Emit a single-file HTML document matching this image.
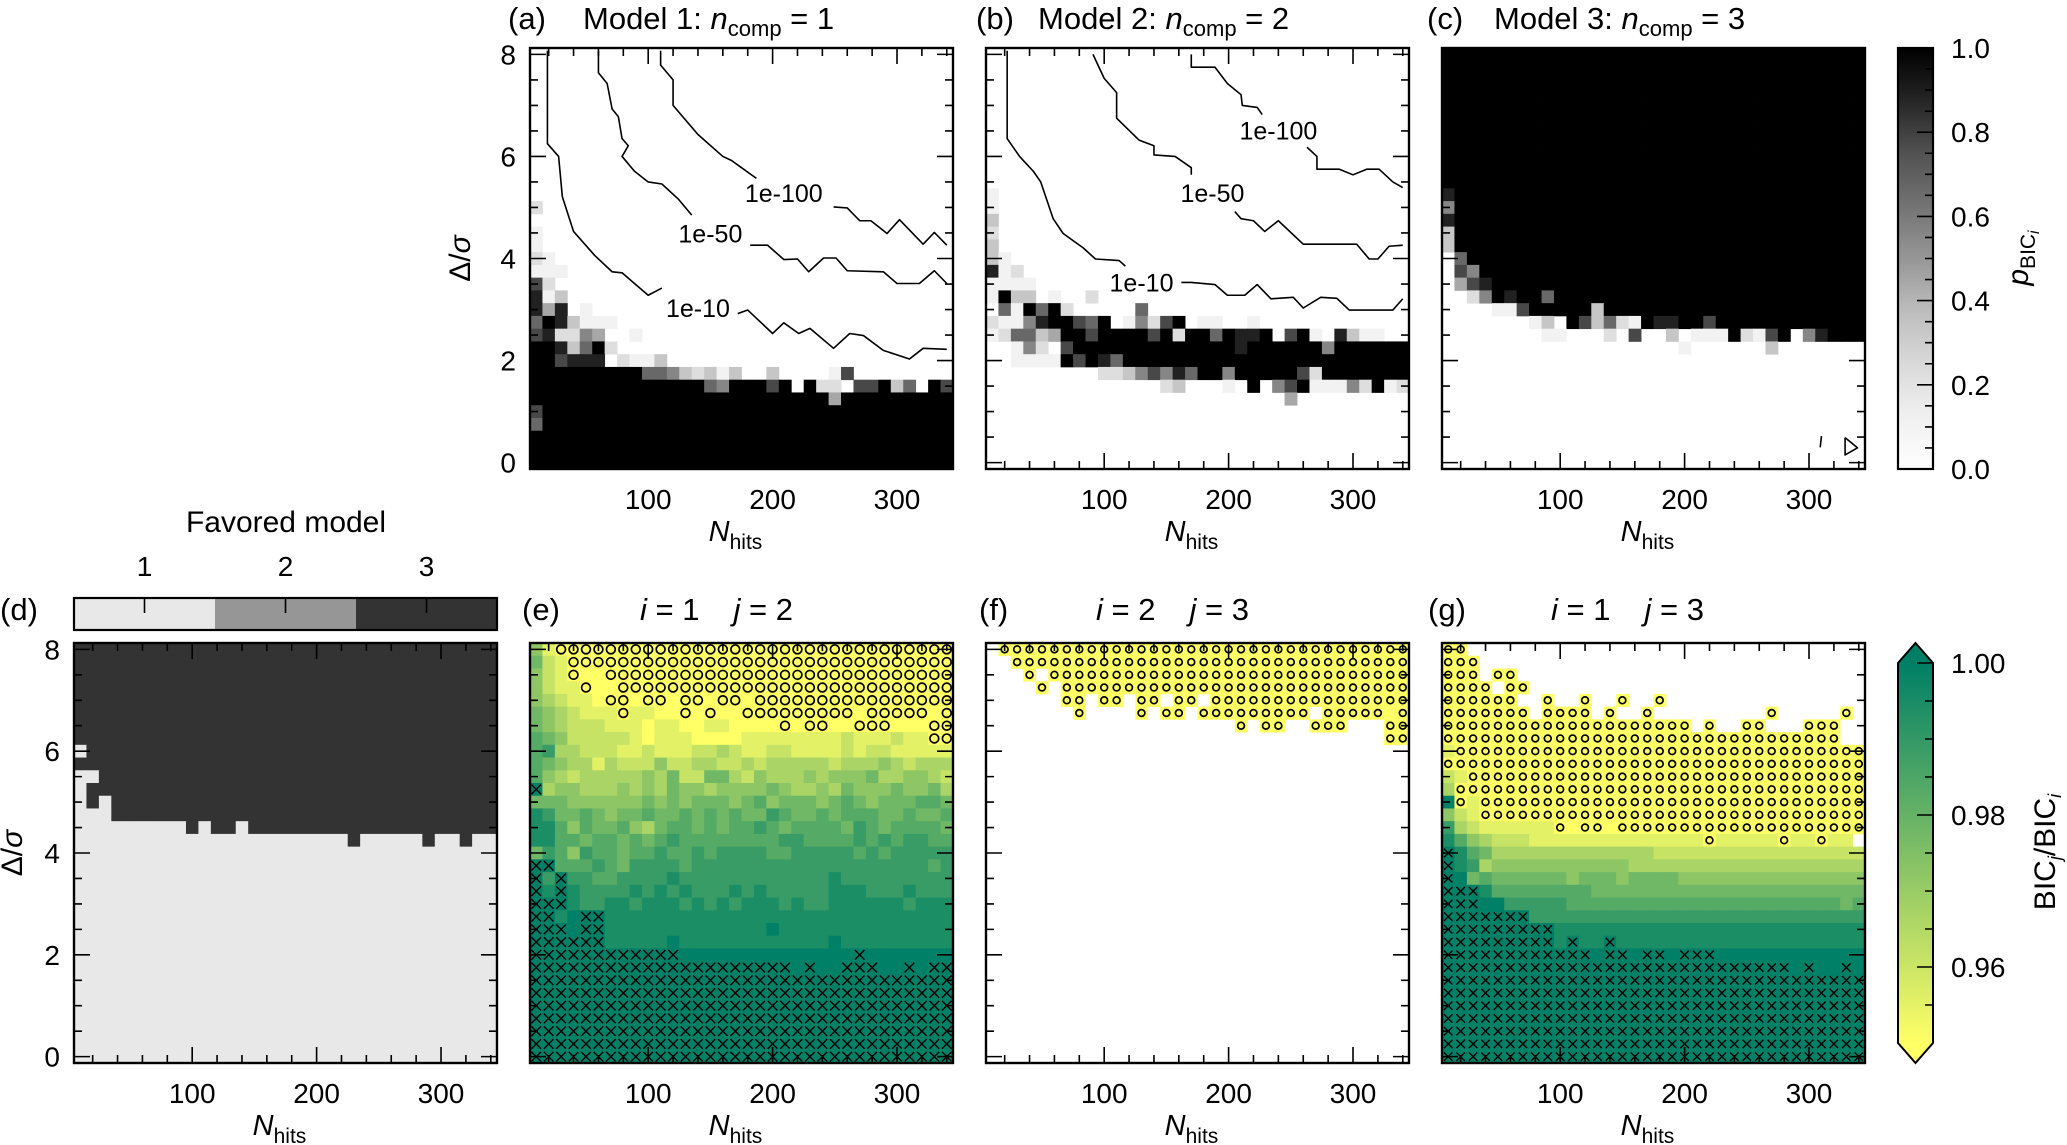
<!DOCTYPE html>
<html><head><meta charset="utf-8"><style>
html,body{margin:0;padding:0;background:#fff;}
svg{display:block;font-family:"Liberation Sans",sans-serif;}
</style></head><body>
<svg id="fig" width="2067" height="1145" viewBox="0 0 2067 1145" xmlns="http://www.w3.org/2000/svg">
<defs>
<linearGradient id="greyGrad" x1="0" y1="1" x2="0" y2="0">
<stop offset="0" stop-color="#ffffff"/><stop offset="0.125" stop-color="#f0f0f0"/><stop offset="0.25" stop-color="#d9d9d9"/><stop offset="0.375" stop-color="#bdbdbd"/><stop offset="0.5" stop-color="#969696"/><stop offset="0.625" stop-color="#737373"/><stop offset="0.75" stop-color="#525252"/><stop offset="0.875" stop-color="#252525"/><stop offset="1" stop-color="#000000"/>
</linearGradient>
<linearGradient id="summerGrad" x1="0" y1="1" x2="0" y2="0">
<stop offset="0" stop-color="#ffff66"/><stop offset="1" stop-color="#007f66"/>
</linearGradient>
</defs>
<g id="layer"></g>
</svg>
<script>
// ---------- data ----------
const xVals = [10,20,30,40,50,60,70,80,90,100,110,120,130,140,150,160,170,180,190,200,210,220,230,240,250,260,270,280,290,300,310,320,330,340];
const yVals = [8,7.75,7.5,7.25,7,6.75,6.5,6.25,6,5.75,5.5,5.25,5,4.75,4.5,4.25,4,3.75,3.5,3.25,3,2.75,2.5,2.25,2,1.75,1.5,1.25,1,0.75,0.5,0.25,0];
const xMajor = [100,200,300];
const xMinor = [20,40,60,80,120,140,160,180,220,240,260,280,320,340];
const yMajor = [0,2,4,6,8];
const yMinor = [0.5,1,1.5,2.5,3,3.5,4.5,5,5.5,6.5,7,7.5];
const xTickLabels = ["100","200","300"];
const yTickLabels = ["0","2","4","6","8"];
const pTicks = [0,0.2,0.4,0.6,0.8,1.0];
const pTickLabels = ["0.0","0.2","0.4","0.6","0.8","1.0"];
const pMinor = [0.05,0.1,0.15,0.25,0.3,0.35,0.45,0.5,0.55,0.65,0.7,0.75,0.85,0.9,0.95];
const rTicks = [0.96,0.98,1.00];
const rTickLabels = ["0.96","0.98","1.00"];
const rMinor = [0.955,0.965,0.97,0.975,0.985,0.99,0.995];
const favoredModels = ["1","2","3"];

const pA = ["","","","","","","","","","","","","2","","1","1","21","111","72","813","84801","6983111","782254001","99836920000","99788802113",
"9999999996653231300300001700000000","9999999999999965999790922077936097","9999999999999999999999994999999999",
"7999999999999999999999999999999999","6999999999999999999999999999999999","9999999999999999999999999999999999","9999999999999999999999999999999999","9999999999999999999999999999999999"];
const pB = ["","","","","","","","","","","","1","1","3","2","3","31","812","1111","193301002","0619692000006","2115899769015279011001",
"1266349979999792996988907910831100","0015207999999999999989999995999999","0011119798699999999999999999999999",
"0000000002235758699599999729999999","0000000000000023000109057911152912","0000000000000000000000004000000000","","","","",""];
const pC = ["","","","","","","","","","","","8","5","8","39","39","069","0759","0478","0025989969","0000117999993","0000000130973621988997",
"0000000011000207003011192179058999","0000000000000000000100000030000000","0000000000000000000000000000000000","0000000000000000000000000000000000",
"0000000000000000000000000000000000","0000000000000000000000000000000000","0000000000000000000000000000000000","0000000000000000000000000000000000",
"0000000000000000000000000000000000","0000000000000000000000000000000000","0000000000000000000000000000000000"];
const favD = ["","","","","","","","","1","","11","1","131","111","1111111113133133333333333333333333","1111111111111111111111311111311311",
"1111111111111111111111111111111111","1111111111111111111111111111111111","1111111111111111111111111111111111","1111111111111111111111111111111111",
"1111111111111111111111111111111111","1111111111111111111111111111111111","1111111111111111111111111111111111","1111111111111111111111111111111111",
"1111111111111111111111111111111111","1111111111111111111111111111111111","1111111111111111111111111111111111","1111111111111111111111111111111111",
"1111111111111111111111111111111111","1111111111111111111111111111111111","1111111111111111111111111111111111","1111111111111111111111111111111111","1111111111111111111111111111111111"];
const rE = ["41oooooooooooooooooooooooooooooooo","521ooooooooooooooooooooooooooooooo","421o00oooooooooooooooooooooooooooo","4211o00ooooooooooooooooooooooooooo",
"432110oo0oo0oo0oo0oooooooooooooooo","5432111o1100o0o00ooooooooo0ooooo0o","54322211101100110000o0oo00ooo000oo","65422222101110000111111112111211oo",
"6733222112111223211221111212211111","6543313222422332232333332333432333","6432333334352255324333434445334432","x344333434354434444543343544454453",
"5554444445454555456455545654555665","8755654556556565655765565666556556","8864655643566565667656666576566665","8866566565676666666677666676767766",
"5764766566766767777667777767677777","xx66676577776777777777777777777767","x7x7766777787777777777778777777777","x8x8777787878777878777778887778777",
"xxx8778878887878788878778888887888","xx89xx8888888888888888888888888888","xxx9xx8888888888888988888888888888","xxxxxx8888898888888888889888888888",
"xxxxxxxxxxxx99999999999999x9999999","xxxxxxxxxxxxxxxxxxxxx9x99xxx99x9xx","xxxxxxxxxxxxxxxxxxxxxxxxxxxxxxxxxx","xxxxxxxxxxxxxxxxxxxxxxxxxxxxxxxxxx",
"xxxxxxxxxxxxxxxxxxxxxxxxxxxxxxxxxx","xxxxxxxxxxxxxxxxxxxxxxxxxxxxxxxxxx","xxxxxxxxxxxxxxxxxxxxxxxxxxxxxxxxxx","xxxxxxxxxxxxxxxxxxxxxxxxxxxxxxxxxx","xxxxxxxxxxxxxxxxxxxxxxxxxxxxxxxxxx"];
const rF = [".ooooooooooooooooooooooooooooooooo","..oooooooooooooooooooooooooooooooo","...o.ooooooooooooooooooooooooooooo","....o.oooooooooooooooooooooooooooo",
"......oo.oo.oo.oo.oooooooooooooooo",".......o....o.oo.ooooooooo.ooooo0o","....................o.oo..ooo...oo","................................oo"];
const rG = ["oo","ooo","ooo.oo","oooo.oo","oooooo..o..o..o..o","ooooooo.oooo.o..o.........o.....o.","oooooooooooooooooooo.o..oo...ooo..",
"oooooooooooooooooooooooooooooooo..","1ooooooooooooooooooooooooooooooooo","oooooooooooooooooooooooooooooooooo","21oooooooooooooooooooooooooooooooo","3ooooooooooooooooooooooooooooooooo",
"9o1ooooooooooooooooooooooooooooooo","421ooooooooooooooooooooooooooooooo","732111111o0oo0oooooooooooooooooooo","864322211111111111111o11111o11o11",
"x865333333333333322222222222222222","x873444444444443333333333333333333","x956555555455545555444444444444444","xxx8666666665555555555555555555555",
"xxx9977777666666666666666666666656","xxxxxxx777777777777777777777777777","xxxxxxxxx8888888888888888888888888","xxxxxxxxx8x88x88888888888888888888",
"xxxxxxxxxxxx9xx9xx9xxx999999999999","xxxxxxxxxxxxxxxxxxxxxxxxxxxx9x99x9","xxxxxxxxxxxxxxxxxxxxxxxxxxxxxxxxxx","xxxxxxxxxxxxxxxxxxxxxxxxxxxxxxxxxx",
"xxxxxxxxxxxxxxxxxxxxxxxxxxxxxxxxxx","xxxxxxxxxxxxxxxxxxxxxxxxxxxxxxxxxx","xxxxxxxxxxxxxxxxxxxxxxxxxxxxxxxxxx","xxxxxxxxxxxxxxxxxxxxxxxxxxxxxxxxxx","xxxxxxxxxxxxxxxxxxxxxxxxxxxxxxxxxx"];

const contA10 = [[19,8.07],[19,6.25],[28,6.0],[31,5.21],[40,4.53],[57,4.06],[71,3.74],[79,3.72],[100,3.28],[111,3.42]];
const contA10b = [[172,2.92],[180,2.99],[200,2.53],[209,2.74],[221,2.53],[230,2.63],[249,2.24],[262,2.53],[273,2.49],[289,2.2],[310,2.03],[321,2.24],[340,2.22]];
const contA50 = [[60,8.07],[60,7.64],[67,7.43],[71,6.93],[76,6.78],[79,6.35],[84,6.21],[79,6.0],[89,5.71],[100,5.5],[111,5.46],[124,5.17],[135,4.85]];
const contA50b = [[182,4.26],[196,4.26],[209,3.98],[220,3.99],[229,3.74],[241,4.01],[251,4.01],[260,3.76],[289,3.74],[300,3.51],[318,3.51],[330,3.76],[340,3.51]];
const contA100 = [[110,8.07],[110,7.79],[120,7.5],[120,7.0],[140,6.43],[160,6.0],[167,5.92],[175,5.78],[187,5.57]];
const contA100b = [[249,5.01],[260,4.99],[270,4.74],[279,4.74],[292,4.49],[302,4.76],[321,4.28],[330,4.51],[340,4.26]];
const contB10 = [[22,8.07],[22,6.35],[32,6.0],[43,5.71],[49,5.5],[53,5.21],[59,4.78],[67,4.49],[83,4.21],[93,3.99],[112,3.96],[117,3.85]];
const contB10b = [[162,3.53],[170,3.53],[189,3.49],[199,3.28],[213,3.28],[223,3.49],[234,3.21],[252,3.24],[260,3.03],[274,3.24],[287,3.22],[297,2.99],[332,2.99],[340,3.21]];
const contB50 = [[91,8.0],[100,7.53],[110,7.25],[110,6.75],[128,6.32],[140,6.21],[140,6.03],[157,6.0],[170,5.78],[170,5.64]];
const contB50b = [[205,4.92],[210,4.78],[220,4.74],[229,4.53],[240,4.74],[260,4.28],[292,4.28],[303,4.28],[313,3.99],[320,3.99],[329,4.24],[340,4.26]];
const contB100 = [[170,8.0],[170,7.75],[189,7.75],[199,7.43],[210,7.21],[211,7.0],[223,6.96],[227,6.82]];
const contB100b = [[263,6.18],[271,6.0],[271,5.75],[289,5.75],[300,5.64],[311,5.75],[321,5.75],[332,5.5],[340,5.39]];
const contC1 = [[310,0.52],[309,0.30]];
const contC2 = [[329,0.49],[339,0.29],[329,0.15],[329,0.49]];
const contourLabels = [
 {p:0,text:"1e-100",x:209,y:5.28},{p:0,text:"1e-50",x:150,y:4.49},{p:0,text:"1e-10",x:140,y:3.03},
 {p:1,text:"1e-100",x:240,y:6.51},{p:1,text:"1e-50",x:187,y:5.28},{p:1,text:"1e-10",x:130,y:3.53}];

// ---------- drawing ----------
const NS = "http://www.w3.org/2000/svg";
const root = document.getElementById('layer');
function mk(tag, attrs, parent){ const e=document.createElementNS(NS,tag); for(const k in attrs) e.setAttribute(k,attrs[k]); (parent||root).appendChild(e); return e; }
const W=423;
const panels = [
 {id:'a',L:530,T:48,H:421},{id:'b',L:986,T:48,H:421},{id:'c',L:1442,T:48,H:421},
 {id:'d',L:74,T:643,H:420},{id:'e',L:530,T:643,H:420},{id:'f',L:986,T:643,H:420},{id:'g',L:1442,T:643,H:420}];
panels.forEach(p=>{ p.sx=v=>p.L+(v-5)/340*W; p.sy=v=>p.T+(8.125-v)/8.25*p.H; });

const greyStops=[255,240,217,189,150,115,82,37,0];
function greyColor(v){ const f=v*8, i=Math.min(7,Math.floor(f)), t=f-i; const g=Math.round(greyStops[i]+(greyStops[i+1]-greyStops[i])*t); return `rgb(${g},${g},${g})`; }
function summerColor(v){ let t=(1.0-v)/0.05; t=Math.max(0,Math.min(1,t)); return `rgb(${Math.round(255*t)},${Math.round(127.5+127.5*t)},102)`; }

function drawGrey(p, rows, pad, name){
  const g=mk('g',{});  
  rows.forEach((s,r)=>{ const row=s.padEnd(34,pad); for(let c=0;c<34;c++){ const v=parseInt(row[c])/9; if(v===0) continue;
    const x0=p.sx(xVals[c]-5), x1=p.sx(xVals[c]+5), y0=p.sy(yVals[r]+0.125), y1=p.sy(yVals[r]-0.125);
    const e=mk('rect',{x:x0.toFixed(2),y:y0.toFixed(2),width:(x1-x0+0.4).toFixed(2),height:(y1-y0+0.4).toFixed(2),fill:greyColor(v)},g);
    
     }});
}
function drawFav(p, rows){
  const g=mk('g',{});  
  const cols={"1":"#e8e8e8","2":"#969696","3":"#333333"};
  rows.forEach((s,r)=>{ const row=s.padEnd(34,'3'); for(let c=0;c<34;c++){
    const x0=p.sx(xVals[c]-5), x1=p.sx(xVals[c]+5), y0=p.sy(yVals[r]+0.125), y1=p.sy(yVals[r]-0.125);
    const e=mk('rect',{x:x0.toFixed(2),y:y0.toFixed(2),width:(x1-x0+0.4).toFixed(2),height:(y1-y0+0.4).toFixed(2),fill:cols[row[c]]},g);
    
     }});
}
function drawRatio(p, rows, name, big){
  const g=mk('g',{});  
  const mg=mk('g',{});
  const cr = big?4.4:3.4, xh = big?4.8:4.2;
  rows.forEach((s,r)=>{ const row=s.padEnd(34,'.'); for(let c=0;c<34;c++){ const ch=row[c]; if(ch==='.') continue;
    let v; if(ch==='o') v=0.94; else if(ch==='x') v=1.01; else v=0.95+0.05*parseInt(ch)/9;
    const x0=p.sx(xVals[c]-5), x1=p.sx(xVals[c]+5), y0=p.sy(yVals[r]+0.125), y1=p.sy(yVals[r]-0.125);
    const e=mk('rect',{x:x0.toFixed(2),y:y0.toFixed(2),width:(x1-x0+0.4).toFixed(2),height:(y1-y0+0.4).toFixed(2),fill:summerColor(v)},g);
    
    
    const cx=p.sx(xVals[c]), cy=p.sy(yVals[r]);
    if(ch==='o'){ const m=mk('circle',{cx:cx.toFixed(2),cy:cy.toFixed(2),r:cr,fill:'none',stroke:'#000','stroke-width':1.7},mg);
      
       }
    if(ch==='x'){ const m=mk('path',{d:`M${cx-xh},${cy-xh}L${cx+xh},${cy+xh}M${cx-xh},${cy+xh}L${cx+xh},${cy-xh}`,stroke:'#000','stroke-width':1.4,fill:'none'},mg);
      
       }
  }});
  root.appendChild(mg);
}
function drawLine(p, pts, name){
  const d=pts.map((q,i)=>(i?'L':'M')+p.sx(q[0]).toFixed(2)+','+p.sy(q[1]).toFixed(2)).join('');
  const e=mk('path',{d:d,fill:'none',stroke:'#000','stroke-width':1.6,'stroke-linejoin':'round'});
  
  
}
function axes(p, showY, lblY){
  const g=mk('g',{});  
  const B=p.T+p.H, R=p.L+W;
  let d='';
  xMajor.forEach(v=>{const x=p.sx(v); d+=`M${x},${B}v-16M${x},${p.T}v16`;});
  xMinor.forEach(v=>{const x=p.sx(v); d+=`M${x},${B}v-8M${x},${p.T}v8`;});
  yMajor.forEach(v=>{const y=p.sy(v); d+=`M${p.L},${y}h16M${R},${y}h-16`;});
  yMinor.forEach(v=>{const y=p.sy(v); d+=`M${p.L},${y}h8M${R},${y}h-8`;});
  mk('path',{d:d,stroke:'#000','stroke-width':1.6,fill:'none'},g);
  const fr=mk('rect',{x:p.L,y:p.T,width:W,height:p.H,fill:'none',stroke:'#000','stroke-width':2.4},g);
  
  
  xMajor.forEach((v,i)=>{ const t=mk('text',{x:p.sx(v),y:B+40,'font-size':28,'text-anchor':'middle'},g); t.textContent=xTickLabels[i];
    
     });
  const xl=mk('text',{x:p.L+W/2-6,y:B+72,'font-size':29,'text-anchor':'middle'},g);
  xl.innerHTML='<tspan font-style="italic">N</tspan><tspan font-size="21" dy="8">hits</tspan>';
  
  
  if(showY){
    yMajor.forEach((v,i)=>{ const t=mk('text',{x:p.L-14,y:p.sy(v)+10,'font-size':28,'text-anchor':'end'},g); t.textContent=yTickLabels[i];
      
       });
    const yl=mk('text',{x:0,y:0,'font-size':30,'text-anchor':'middle',transform:`translate(${lblY},${p.T+p.H/2}) rotate(-90)`},g);
    yl.innerHTML='Δ/<tspan font-style="italic">σ</tspan>';
    
    
  }
}
function title(x,y,html,name){
  const t=mk('text',{x:x,y:y,'font-size':31}); t.innerHTML=html;
  
   return t;
}

const [pa,pb,pc,pd,pe,pf,pg]=panels;
drawGrey(pa,pA,'0','p-bic-model1-heatmap');
drawGrey(pb,pB,'0','p-bic-model2-heatmap');
drawGrey(pc,pC,'9','p-bic-model3-heatmap');
drawFav(pd,favD);
drawRatio(pe,rE,'ratio-1-2-heatmap',true);
drawRatio(pf,rF,'ratio-2-3-heatmap',false);
drawRatio(pg,rG,'ratio-1-3-heatmap',false);
drawLine(pa,contA10,'contour-1e-10'); drawLine(pa,contA10b,'contour-1e-10');
drawLine(pa,contA50,'contour-1e-50'); drawLine(pa,contA50b,'contour-1e-50');
drawLine(pa,contA100,'contour-1e-100'); drawLine(pa,contA100b,'contour-1e-100');
drawLine(pb,contB10,'contour-1e-10'); drawLine(pb,contB10b,'contour-1e-10');
drawLine(pb,contB50,'contour-1e-50'); drawLine(pb,contB50b,'contour-1e-50');
drawLine(pb,contB100,'contour-1e-100'); drawLine(pb,contB100b,'contour-1e-100');
drawLine(pc,contC1,'contour-small'); drawLine(pc,contC2,'contour-small');
contourLabels.forEach(l=>{ const p=panels[l.p]; const t=mk('text',{x:p.sx(l.x),y:p.sy(l.y)+9,'font-size':25,'text-anchor':'middle'}); t.textContent=l.text;
  
   });

axes(pa,true,470); axes(pb,false); axes(pc,false);
axes(pd,true,22); axes(pe,false); axes(pf,false); axes(pg,false);

const sub='<tspan font-size="22" dy="7">comp</tspan><tspan dy="-7">';
title(508,29,'(a)','panel-a-label');
title(583,29,'Model 1: <tspan font-style="italic">n</tspan>'+sub+' = 1</tspan>','panel-a-title');
title(976,29,'(b)','panel-b-label');
title(1038,29,'Model 2: <tspan font-style="italic">n</tspan>'+sub+' = 2</tspan>','panel-b-title');
title(1427,29,'(c)','panel-c-label');
title(1494,29,'Model 3: <tspan font-style="italic">n</tspan>'+sub+' = 3</tspan>','panel-c-title');
title(0,620,'(d)','panel-d-label');
title(522,620,'(e)','panel-e-label');
title(640,620,'<tspan font-style="italic">i</tspan> = 1<tspan dx="34" font-style="italic">j</tspan> = 2','panel-e-title');
title(979,620,'(f)','panel-f-label');
title(1096,620,'<tspan font-style="italic">i</tspan> = 2<tspan dx="34" font-style="italic">j</tspan> = 3','panel-f-title');
title(1428,620,'(g)','panel-g-label');
title(1551,620,'<tspan font-style="italic">i</tspan> = 1<tspan dx="34" font-style="italic">j</tspan> = 3','panel-g-title');

(function(){
  const g=mk('g',{});  
  const X0=1898,X1=1933,T=48,B=469, cy=v=>B-v*(B-T);
  mk('rect',{x:X0,y:T,width:X1-X0,height:B-T,fill:'url(#greyGrad)'},g);
  let d=''; pTicks.forEach(v=>d+=`M${X1},${cy(v)}h-16`); pMinor.forEach(v=>d+=`M${X1},${cy(v)}h-8`);
  mk('path',{d:d,stroke:'#000','stroke-width':1.6},g);
  mk('rect',{x:X0,y:T,width:X1-X0,height:B-T,fill:'none',stroke:'#000','stroke-width':2.2},g);
  pTicks.forEach((v,i)=>{ const t=mk('text',{x:1951,y:cy(v)+10,'font-size':28},g); t.textContent=pTickLabels[i];
    
     });
  const l=mk('text',{x:0,y:0,'font-size':30,'text-anchor':'middle',transform:'translate(2028,258) rotate(-90)'},g);
  l.innerHTML='<tspan font-style="italic">p</tspan><tspan font-size="21" dy="7">BIC</tspan><tspan font-size="16" font-style="italic" dy="4">i</tspan>';
  
  
})();
(function(){
  const g=mk('g',{});  
  const X0=1898,X1=1933,T=663,B=1043, cy=v=>B-(v-0.95)/0.05*(B-T);
  mk('polygon',{points:`${X0},${T} ${(X0+X1)/2},643 ${X1},${T}`,fill:'#007f66'},g);
  mk('rect',{x:X0,y:T,width:X1-X0,height:B-T,fill:'url(#summerGrad)'},g);
  mk('polygon',{points:`${X0},${B} ${(X0+X1)/2},1063 ${X1},${B}`,fill:'#ffff66'},g);
  let d=''; rTicks.forEach(v=>d+=`M${X1},${cy(v)}h-16`); rMinor.forEach(v=>d+=`M${X1},${cy(v)}h-8`);
  mk('path',{d:d,stroke:'#000','stroke-width':1.6},g);
  mk('path',{d:`M${X0},${T}L${(X0+X1)/2},643L${X1},${T}L${X1},${B}L${(X0+X1)/2},1063L${X0},${B}Z`,fill:'none',stroke:'#000','stroke-width':2},g);
  rTicks.forEach((v,i)=>{ const t=mk('text',{x:1951,y:cy(v)+10,'font-size':28},g); t.textContent=rTickLabels[i];
    
     });
  const l=mk('text',{x:0,y:0,'font-size':30,'text-anchor':'middle',transform:'translate(2055,852) rotate(-90)'},g);
  l.innerHTML='BIC<tspan font-size="18" font-style="italic" dy="6">j</tspan><tspan dy="-6">/BIC</tspan><tspan font-size="18" font-style="italic" dy="6">i</tspan>';
  
  
})();
(function(){
  const g=mk('g',{});  
  const cols=["#e8e8e8","#969696","#333333"]; const X0=74,X1=497,T=598,B=630, w=(X1-X0)/3;
  favoredModels.forEach((m,i)=>{
    const r=mk('rect',{x:X0+i*w,y:T,width:w+0.5,height:B-T,fill:cols[i]},g);
    
    
    mk('path',{d:`M${X0+(i+0.5)*w},${T}v15`,stroke:'#000','stroke-width':1.6},g);
    const t=mk('text',{x:X0+(i+0.5)*w,y:576,'font-size':28,'text-anchor':'middle'},g); t.textContent=m;
    
    
  });
  mk('rect',{x:X0,y:T,width:X1-X0,height:B-T,fill:'none',stroke:'#000','stroke-width':2.2},g);
  const t=mk('text',{x:286,y:532,'font-size':30,'text-anchor':'middle'},g); t.textContent='Favored model';
  
  
})();
</script>
</body></html>
